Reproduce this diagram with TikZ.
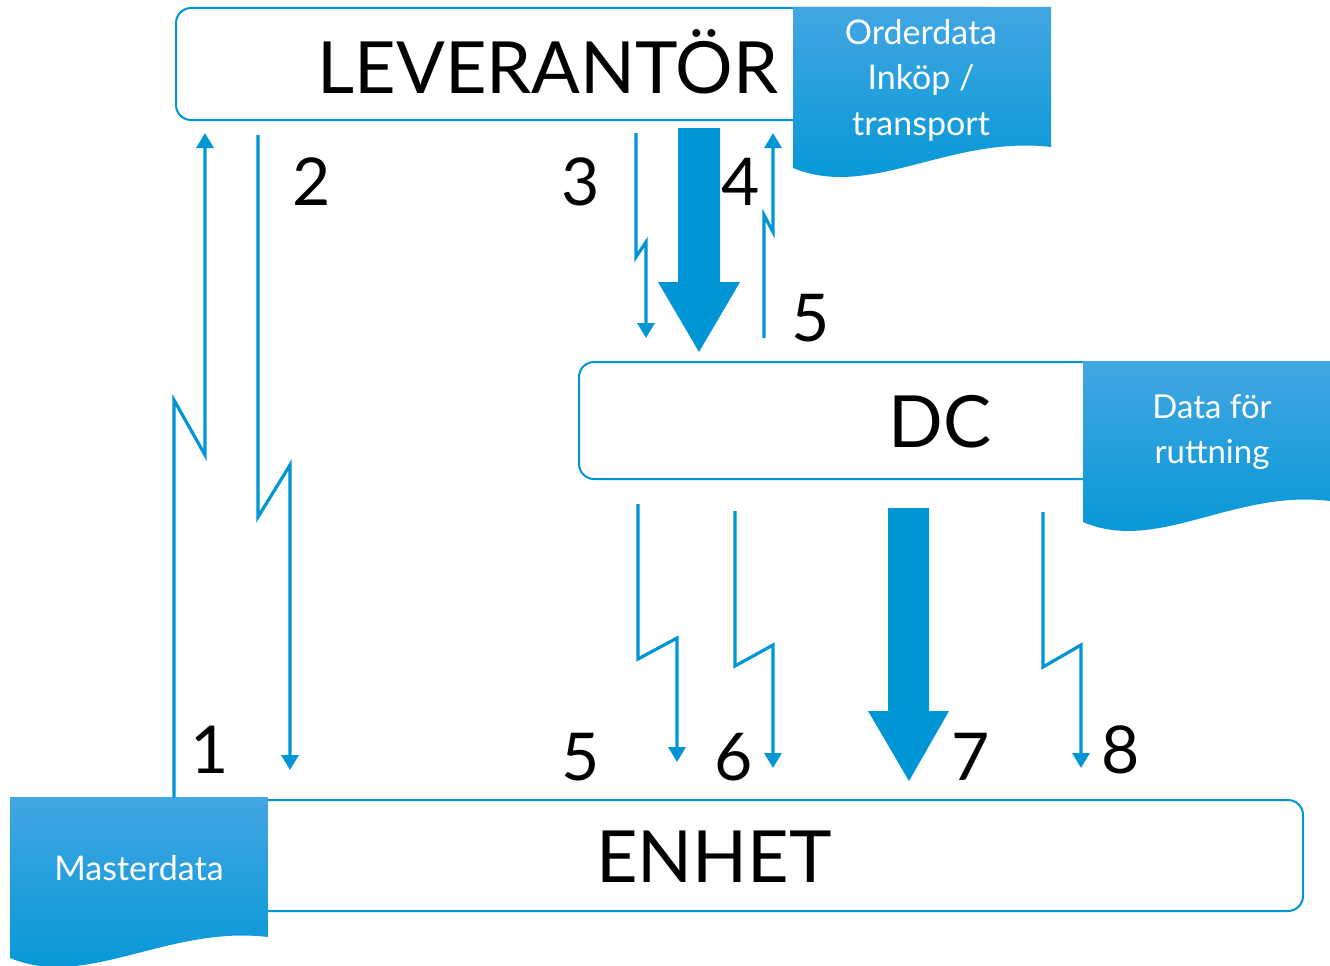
\documentclass[tikz,border=0pt]{standalone}
\usepackage{fontspec}
\setmainfont{Lato}
\usetikzlibrary{arrows.meta}
\definecolor{blu}{RGB}{0,150,214}
\definecolor{blutop}{RGB}{66,166,226}
\tikzset{
  box/.style={draw=blu, line width=2pt, rounded corners=15pt, fill=white, inner sep=0pt},
  flow/.style={draw=blu, line width=3.2pt, -{Triangle[width=17pt,length=15pt]}},
  bigarrow/.style={fill=blu},
  num/.style={font=\fontsize{66}{70}\selectfont, text=black, inner sep=0pt},
  title/.style={font=\fontsize{72}{80}\selectfont, text=black, inner sep=0pt, anchor=base},
  doctext/.style={text=white, align=center, inner sep=0pt},
}
\newcommand\docshape[3]{%
  \shade[top color=blutop, bottom color=blu] (#1,#2) -- ({#1+#3},#2) -- ({#1+#3},{#2+140})
    .. controls ({#1+0.61*#3},{#2+128}) and ({#1+0.3*#3},{#2+193}) .. (#1,{#2+161}) -- cycle;}
\begin{document}
\begin{tikzpicture}[x=1pt,y=-1pt]
\useasboundingbox (0,0) rectangle (1330,966);
% boxes
\node[box, anchor=north west, minimum width=825pt, minimum height=112pt] (lev) at (175,7) {};
\node[box, anchor=north west, minimum width=722pt, minimum height=117pt] (dc) at (578,361) {};
\node[box, anchor=north west, minimum width=1292pt, minimum height=111pt] (enh) at (10,799) {};
% documents
\docshape{793}{7}{258}
\docshape{1083}{361}{247}
\docshape{10}{797}{258}
% titles
\node[title] (levt) at (548,93) {LEVERANTÖR};
\node[title] (dct) at (940,447) {DC};
\node[title] (enht) at (714,882) {ENHET};
% document texts
\node[doctext, font=\fontsize{34}{45.5}\selectfont] (ord) at (921,80) {Orderdata\\Inköp /\\transport};
\node[doctext, font=\fontsize{33}{45}\selectfont] (rut) at (1212,432) {Data för\\ruttning};
\node[doctext, font=\fontsize{34}{40}\selectfont] (mst) at (139,868) {Masterdata};
% numbers
\node[num] (n2) at (312,182) {2};
\node[num] (n3) at (581,182) {3};
\node[num] (n4) at (741,182) {4};
\node[num] (n5a) at (811,318) {5};
\node[num] (n1) at (210,750) {1};
\node[num] (n5b) at (581,757) {5};
\node[num] (n6) at (734,757) {6};
\node[num] (n7) at (971,757) {7};
\node[num] (n8) at (1121,750) {8};
% connector coordinates
\coordinate (a1s) at (174,797); \coordinate (a1k) at (174,400); \coordinate (a1l) at (205,455); \coordinate (a1e) at (205,133);
\coordinate (a2s) at (258,135); \coordinate (a2k) at (258,517); \coordinate (a2l) at (290,465); \coordinate (a2e) at (290,770);
\coordinate (a3s) at (636,133); \coordinate (a3k) at (636,257); \coordinate (a3l) at (646,242); \coordinate (a3e) at (646,338);
\coordinate (a4s) at (764,338); \coordinate (a4k) at (764,215); \coordinate (a4l) at (773,232); \coordinate (a4e) at (773,133);
\coordinate (a5s) at (638,504); \coordinate (a5k) at (638,659); \coordinate (a5l) at (677,638); \coordinate (a5e) at (677,762);
\coordinate (a6s) at (735,511); \coordinate (a6k) at (735,666); \coordinate (a6l) at (773,645); \coordinate (a6e) at (773,768);
\coordinate (a8s) at (1043,512); \coordinate (a8k) at (1043,667); \coordinate (a8l) at (1081,645); \coordinate (a8e) at (1081,768);
\draw[flow] (a1s) -- (a1k) -- (a1l) -- (a1e);
\draw[flow] (a2s) -- (a2k) -- (a2l) -- (a2e);
\draw[flow] (a3s) -- (a3k) -- (a3l) -- (a3e);
\draw[flow] (a4s) -- (a4k) -- (a4l) -- (a4e);
\draw[flow] (a5s) -- (a5k) -- (a5l) -- (a5e);
\draw[flow] (a6s) -- (a6k) -- (a6l) -- (a6e);
\draw[flow] (a8s) -- (a8k) -- (a8l) -- (a8e);
% big arrows
\fill[bigarrow] (678,128) -- (720,128) -- (720,282) -- (740,282) -- (699,352) -- (658,282) -- (678,282) -- cycle;
\fill[bigarrow] (888,508) -- (929,508) -- (929,711) -- (949,711) -- (909,781) -- (868,711) -- (888,711) -- cycle;
\end{tikzpicture}
\end{document}
